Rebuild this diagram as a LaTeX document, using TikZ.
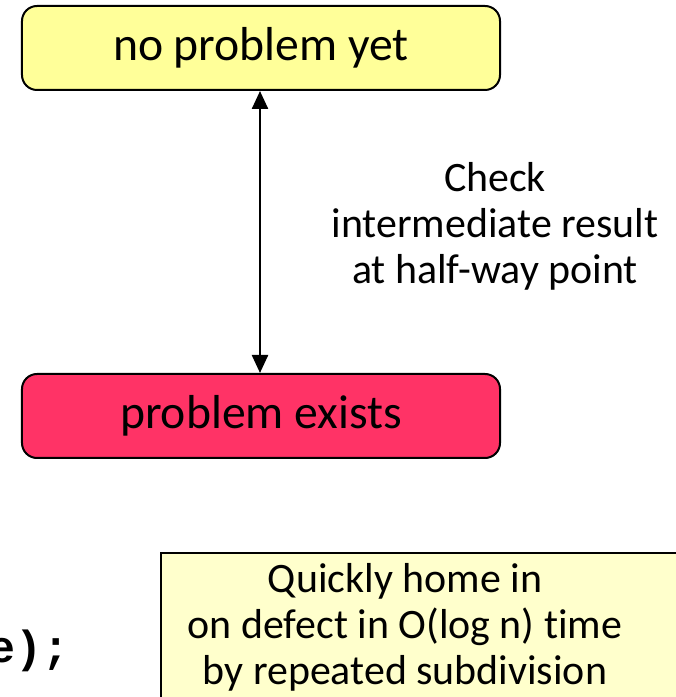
\documentclass[tikz,border=0pt]{standalone}
\usepackage{fontspec}
\setmainfont{Carlito}[Ligatures=NoCommon]
\setmonofont{Liberation Mono}
\usetikzlibrary{arrows.meta}

\definecolor{okyellow}{RGB}{255,255,153}
\definecolor{badred}{RGB}{255,51,102}
\definecolor{noteyellow}{RGB}{255,255,204}

\tikzset{
  statebox/.style={draw, line width=0.05cm, rounded corners=0.375cm,
    minimum width=11.95cm, minimum height=2.1cm, inner sep=0pt,
    font=\fontsize{33.9}{40}\selectfont},
  bigtext/.style={font=\fontsize{29.8}{32.7}\selectfont, align=center}
}

\begin{document}
\begin{tikzpicture}
                    \useasboundingbox (0,0) rectangle (16.875000,17.425000);
                    {

                    % Marking state before defect
                    \node [statebox, fill=okyellow] (nodefect) at (6.525000,16.225000) {no problem yet};%

                    % Marking state after defect
                    \node [statebox, fill=badred] (defect) at (6.525000,7.025000) {problem exists};%

                    % Drawing check between states
                    \draw [line width=0.06cm, {Triangle[width=0.4cm,length=0.45cm]}-{Triangle[width=0.4cm,length=0.45cm]}]
                      ([xshift=-0.025cm]nodefect.south) -- ([xshift=-0.025cm]defect.north);%

                    % Marking check label
                    \node [bigtext] (check) at (12.375000,11.775000)
                      {Check\\intermediate result\\at half-way point};%

                    % Drawing note box
                    \draw [line width=0.04cm, fill=noteyellow] (4.025000,-0.500000) rectangle (17.500000,3.600000);%
                    \node [bigtext] (note) at (10.125000,1.750000)
                      {Quickly home in\\on defect in O(log n) time\\by repeated subdivision};%

                    % Marking code fragment
                    \node [anchor=base east, inner sep=0pt, font=\fontsize{32}{38}\ttfamily\bfseries] (code) at (1.740000,0.875000) {e);};%
                    }
\end{tikzpicture}
\end{document}
